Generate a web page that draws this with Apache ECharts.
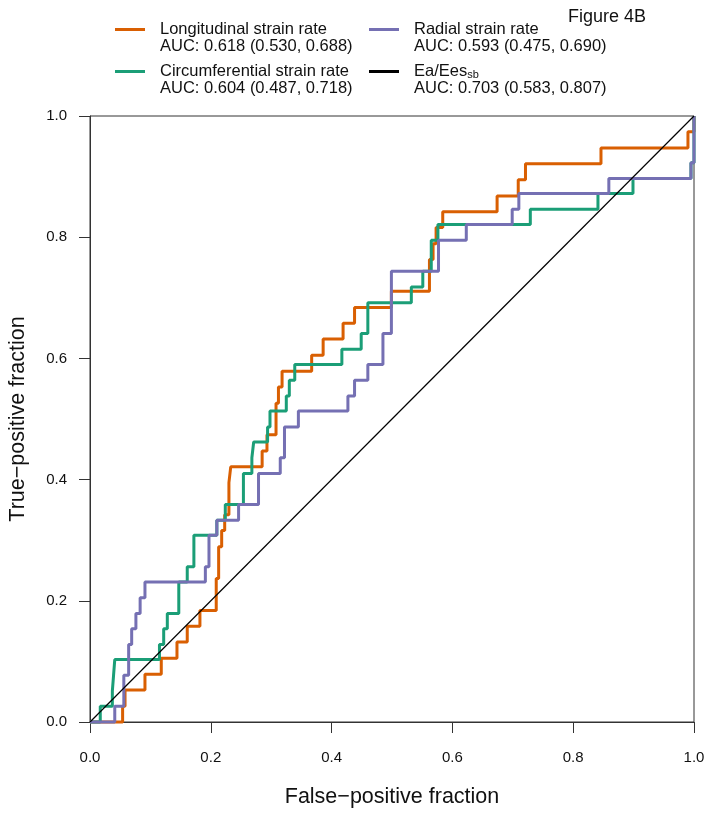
<!DOCTYPE html>
<html>
<head>
<meta charset="utf-8">
<script src="https://cdn.jsdelivr.net/npm/echarts@6/dist/echarts.min.js"></script>
<style>
html, body { margin: 0; padding: 0; background: #fff; }
#chart { width: 714px; height: 815px; }
</style>
</head>
<body>
<div id="chart"></div>
<script>
var FONT = '"Liberation Sans", Arimo, Arial, Helvetica, sans-serif';

// series names / legend text
var names = ['Longitudinal strain rate', 'Circumferential strain rate', 'Radial strain rate', 'Ea/Ees'];
var aucText = ['AUC: 0.618 (0.530, 0.688)', 'AUC: 0.604 (0.487, 0.718)',
               'AUC: 0.593 (0.475, 0.690)', 'AUC: 0.703 (0.583, 0.807)'];
var colors = ['#D95F02', '#1B9E77', '#7570B3', '#000000'];

// ROC step points: false-positive fraction where each rise happens, true-positive fraction after it
var longFpr = [0, 0.054, 0.058, 0.091, 0.118, 0.144, 0.161, 0.182, 0.209, 0.213, 0.218, 0.223, 0.230, 0.233,
               0.285, 0.293, 0.308, 0.312, 0.318, 0.367, 0.386, 0.419, 0.438, 0.499, 0.562, 0.568, 0.573,
               0.584, 0.674, 0.709, 0.721, 0.846, 0.990, 1.0];
var longTpr = [0, 0.026, 0.053, 0.079, 0.105, 0.132, 0.158, 0.184, 0.237, 0.289, 0.316, 0.342, 0.395, 0.421,
               0.447, 0.474, 0.526, 0.553, 0.579, 0.605, 0.632, 0.658, 0.684, 0.711, 0.763, 0.789, 0.816,
               0.842, 0.868, 0.895, 0.921, 0.947, 0.974, 1.0];

var circFpr = [0, 0.017, 0.037, 0.039, 0.041, 0.115, 0.122, 0.128, 0.147, 0.161, 0.172, 0.210, 0.224, 0.254,
               0.268, 0.271, 0.294, 0.298, 0.325, 0.330, 0.339, 0.417, 0.449, 0.460, 0.532, 0.551, 0.565,
               0.576, 0.729, 0.841, 0.899, 0.995, 1.0];
var circTpr = [0, 0.026, 0.051, 0.077, 0.103, 0.128, 0.154, 0.179, 0.231, 0.256, 0.308, 0.333, 0.359, 0.410,
               0.436, 0.462, 0.487, 0.513, 0.538, 0.564, 0.590, 0.615, 0.641, 0.692, 0.718, 0.744, 0.795,
               0.821, 0.846, 0.872, 0.897, 0.923, 1.0];

var radFpr = [0, 0.041, 0.056, 0.064, 0.069, 0.076, 0.083, 0.091, 0.191, 0.197, 0.210, 0.246, 0.279, 0.315,
              0.322, 0.345, 0.427, 0.438, 0.460, 0.485, 0.499, 0.577, 0.623, 0.699, 0.710, 0.859, 0.995, 1.0];
var radTpr = [0, 0.026, 0.077, 0.128, 0.154, 0.179, 0.205, 0.231, 0.256, 0.308, 0.333, 0.359, 0.410, 0.436,
              0.487, 0.513, 0.538, 0.564, 0.590, 0.641, 0.744, 0.795, 0.821, 0.846, 0.872, 0.897, 0.923, 1.0];

// chance line
var refFpr = [0, 1];
var refTpr = [0, 1];

function pairs(xs, ys) {
    return xs.map(function (x, i) { return [x, ys[i]]; });
}

function stepSeries(i, xs, ys) {
    return {
        name: names[i],
        type: 'line',
        step: 'end',
        data: pairs(xs, ys),
        showSymbol: false,
        symbol: 'none',
        clip: false,
        color: colors[i],
        lineStyle: { color: colors[i], width: 3 }
    };
}

function legendFor(i, left, top) {
    return {
        data: [{ name: names[i], icon: 'rect' }],
        left: left,
        top: top,
        padding: 0,
        itemWidth: 30,
        itemHeight: 3,
        selectedMode: false,
        itemStyle: { borderWidth: 0 },
        textStyle: {
            fontFamily: FONT,
            fontSize: 16.5,
            color: '#111',
            lineHeight: 17,
            padding: [17, 0, 0, 10],
            rich: {
                t: { fontFamily: FONT, fontSize: 16.5, lineHeight: 17, color: '#111' },
                s: { fontFamily: FONT, fontSize: 11, lineHeight: 11, padding: [6, 0, 0, 0], color: '#111' }
            }
        },
        formatter: function (name) {
            var first = name === 'Ea/Ees' ? '{t|Ea/Ees}{s|sb}' : '{t|' + name + '}';
            return first + '\n{t|' + aucText[i] + '}';
        }
    };
}

var chart = echarts.init(document.getElementById('chart'), null, { renderer: 'canvas' });

var axisCommon = {
    type: 'value',
    min: 0,
    max: 1,
    interval: 0.2,
    axisLine: { show: true, onZero: false, lineStyle: { color: '#333', width: 1 } },
    axisTick: { show: true, inside: false, length: 11, lineStyle: { color: '#333', width: 1 } },
    splitLine: { show: false },
    nameLocation: 'middle',
    nameTextStyle: { fontFamily: FONT, fontSize: 21.5, color: '#111' }
};

var option = {
    animation: false,
    backgroundColor: '#fff',
    textStyle: { fontFamily: FONT },
    title: {
        text: 'Figure 4B',
        left: 568,
        top: 8,
        padding: 0,
        textStyle: { fontFamily: FONT, fontSize: 18, fontWeight: 'normal', color: '#111' }
    },
    legend: [
        legendFor(0, 115, 4),
        legendFor(1, 115, 46),
        legendFor(2, 369, 4),
        legendFor(3, 369, 46)
    ],
    grid: {
        left: 90,
        right: 20,
        top: 116,
        bottom: 93,
        show: true,
        borderColor: '#333',
        borderWidth: 1,
        outerBoundsMode: 'none'
    },
    xAxis: Object.assign({}, axisCommon, {
        name: 'False\u2212positive fraction',
        nameGap: 64,
        axisLabel: {
            margin: 28, fontFamily: FONT, fontSize: 15, color: '#111',
            formatter: function (v) { return v.toFixed(1); }
        }
    }),
    yAxis: Object.assign({}, axisCommon, {
        name: 'True\u2212positive fraction',
        nameGap: 61,
        axisLabel: {
            margin: 23, fontFamily: FONT, fontSize: 15, color: '#111',
            formatter: function (v) { return v.toFixed(1); }
        }
    }),
    series: [
        stepSeries(0, longFpr, longTpr),
        stepSeries(1, circFpr, circTpr),
        stepSeries(2, radFpr, radTpr),
        {
            name: names[3],
            type: 'line',
            data: pairs(refFpr, refTpr),
            showSymbol: false,
            symbol: 'none',
            color: colors[3],
            lineStyle: { color: colors[3], width: 1.2 }
        }
    ]
};

chart.setOption(option);
</script>
</body>
</html>
